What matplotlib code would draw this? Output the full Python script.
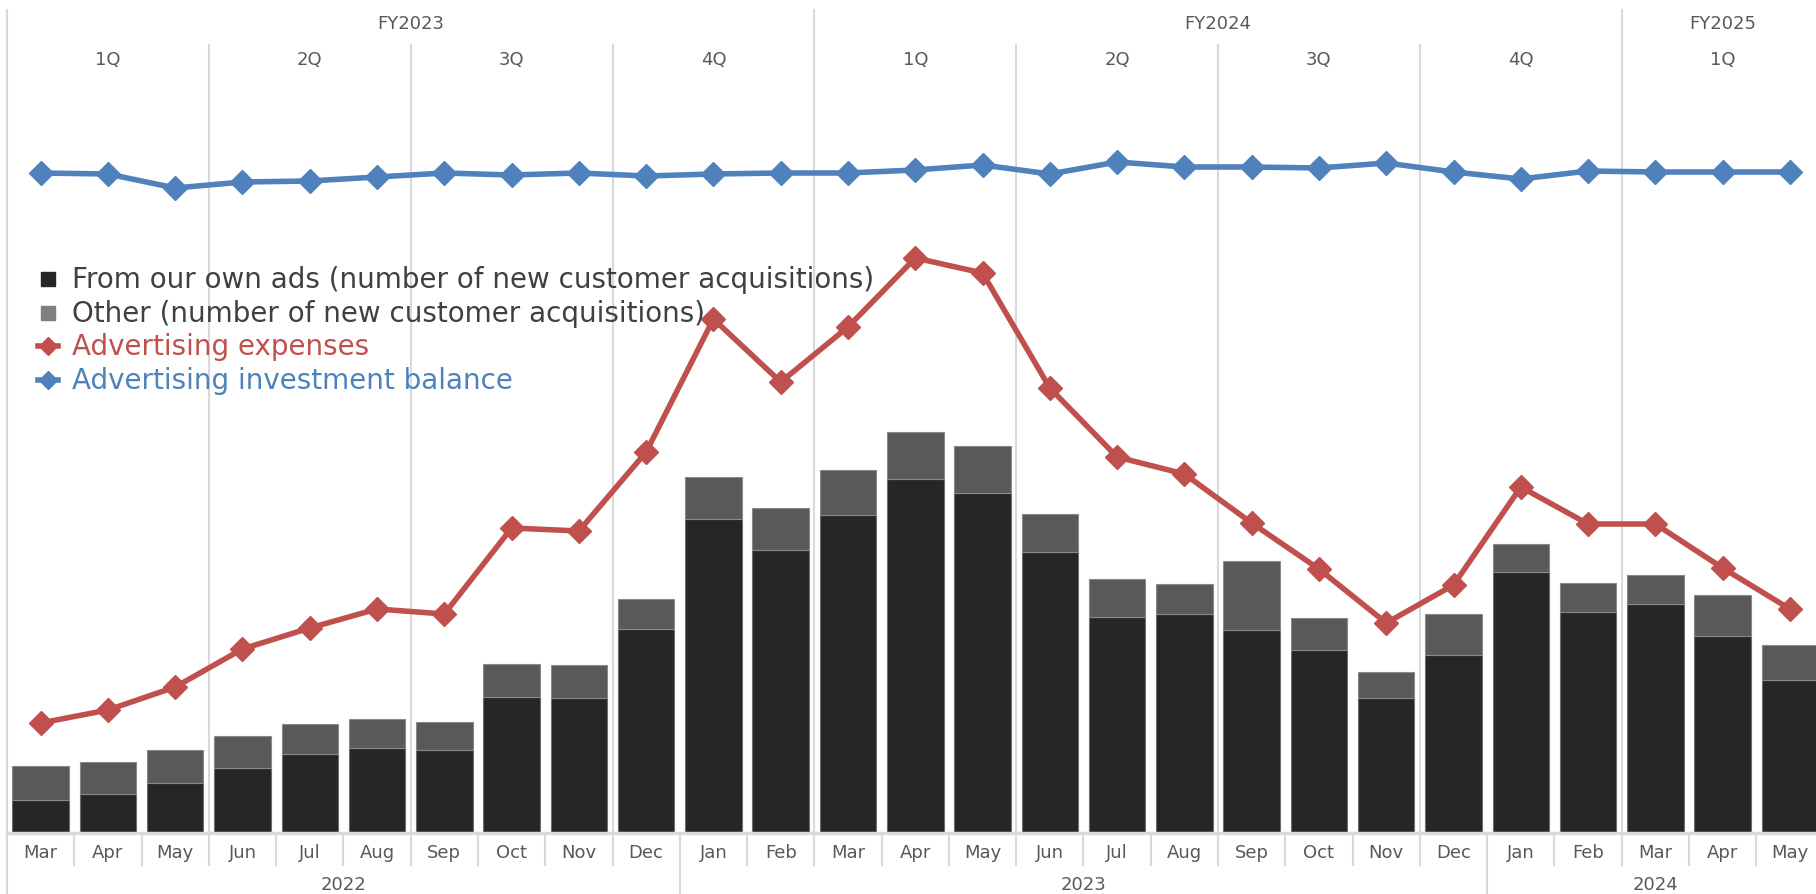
import matplotlib.pyplot as plt
from matplotlib.lines import Line2D

months = ["Mar", "Apr", "May", "Jun", "Jul", "Aug", "Sep", "Oct", "Nov", "Dec",
          "Jan", "Feb", "Mar", "Apr", "May", "Jun", "Jul", "Aug", "Sep", "Oct", "Nov", "Dec",
          "Jan", "Feb", "Mar", "Apr", "May"]
years = ["2022", "2023", "2024"]
year_len = [10, 12, 5]
fiscal_years = ["FY2023", "FY2024", "FY2025"]
fy_len = [12, 12, 3]
quarters = ["1Q", "2Q", "3Q", "4Q", "1Q", "2Q", "3Q", "4Q", "1Q"]

# new customer acquisitions (arbitrary units)
own_ads = [33, 39, 50, 65, 79, 85, 83, 136, 135, 204, 314, 283, 318, 354, 340,
           281, 216, 219, 203, 183, 135, 178, 261, 221, 229, 197, 153]
other = [34, 32, 33, 32, 30, 29, 28, 33, 33, 30, 42, 42, 45, 47, 47,
         38, 38, 30, 69, 32, 26, 41, 28, 29, 29, 41, 35]
ad_expenses = [110, 123, 146, 184, 205, 224, 219, 305, 302, 381, 514, 451, 506, 575, 560,
               445, 376, 359, 310, 264, 210, 248, 346, 309, 309, 265, 224]
invest_balance = [660, 659, 645, 651, 652, 656, 660, 658, 660, 657, 659, 660, 660, 663, 668,
                  659, 671, 666, 666, 665, 670, 661, 654, 662, 661, 661, 661]

OWN = "#262626"
OTHER = "#595959"
RED = "#c0504d"
BLUE = "#4f81bd"
GRID = "#d9d9d9"
TXT = "#595959"

W, H = 1816, 895
fig = plt.figure(figsize=(W / 100, H / 100), dpi=100)
step = 67.28
left_px, base_px = 7, 834
ax = fig.add_axes([left_px / W, (H - base_px) / H, (W - left_px) / W, base_px / H])
ax.set_xlim(-0.5, -0.5 + (W - left_px) / step)
ax.set_ylim(0, base_px)
ax.axis("off")

x = list(range(len(months)))
gkw = dict(color=GRID, lw=1.5, clip_on=False, zorder=0)

# left border
ax.plot([-0.5, -0.5], [-61, 823], **gkw)
# quarter separators and fiscal year separators
pos = 0
for fy, n in zip(fiscal_years, fy_len):
    start = pos
    for q in range(3, n, 3):
        ax.plot([pos + q - 0.5, pos + q - 0.5], [0, 788], **gkw)
    pos += n
    if pos < len(months):
        ax.plot([pos - 0.5, pos - 0.5], [0, 823], **gkw)
    ax.text((start + pos) / 2 - 0.5, 810, fy, ha="center", va="center",
            fontsize=13, color=TXT)
for i, q in enumerate(quarters):
    ax.text(i * 3 + 1, 774, q, ha="center", va="center", fontsize=13, color=TXT)

# bars
ax.bar(x, own_ads, width=0.84, color=OWN, edgecolor="#6e6e6e", lw=0.8, zorder=2)
ax.bar(x, other, width=0.84, bottom=own_ads, color=OTHER, edgecolor="#8a8a8a", lw=0.8, zorder=2)

# lines
ax.plot(x, ad_expenses, color=RED, lw=4, marker="D", ms=12, zorder=4)
ax.plot(x, invest_balance, color=BLUE, lw=4, marker="D", ms=12, zorder=4)

# category axis
ax.plot([-0.5, 27], [0, 0], color=GRID, lw=2.5, clip_on=False, zorder=3)
for i, m in enumerate(months):
    ax.text(i, -19, m, ha="center", va="center", fontsize=13, color=TXT)
    ax.plot([i + 0.5, i + 0.5], [0, -32], **gkw)
pos = 0
for yr, n in zip(years, year_len):
    start = pos
    pos += n
    ax.plot([pos - 0.5, pos - 0.5], [0, -61], **gkw)
    ax.text((start + pos) / 2 - 0.5, -51, yr, ha="center", va="center", fontsize=13, color=TXT)

# legend drawn by hand
entries = [
    ("From our own ads (number of new customer acquisitions)", "#404040", "s", OWN),
    ("Other (number of new customer acquisitions)", "#404040", "s", "#7f7f7f"),
    ("Advertising expenses", RED, "D", RED),
    ("Advertising investment balance", BLUE, "D", BLUE),
]
for k, (label, tc, mk, mc) in enumerate(entries):
    yy = 1 - (280 + k * 33.7) / H
    if mk == "s":
        fig.add_artist(Line2D([48 / W], [yy], marker="s", ms=10, color=mc, lw=0,
                              transform=fig.transFigure))
    else:
        fig.add_artist(Line2D([38 / W, 58 / W], [yy, yy], color=mc, lw=4,
                              transform=fig.transFigure))
        fig.add_artist(Line2D([48 / W], [yy], marker="D", ms=9, color=mc, lw=0,
                              transform=fig.transFigure))
    fig.text(72 / W, yy, label, ha="left", va="center", fontsize=20, color=tc)

fig.savefig("out.png", dpi=100)
